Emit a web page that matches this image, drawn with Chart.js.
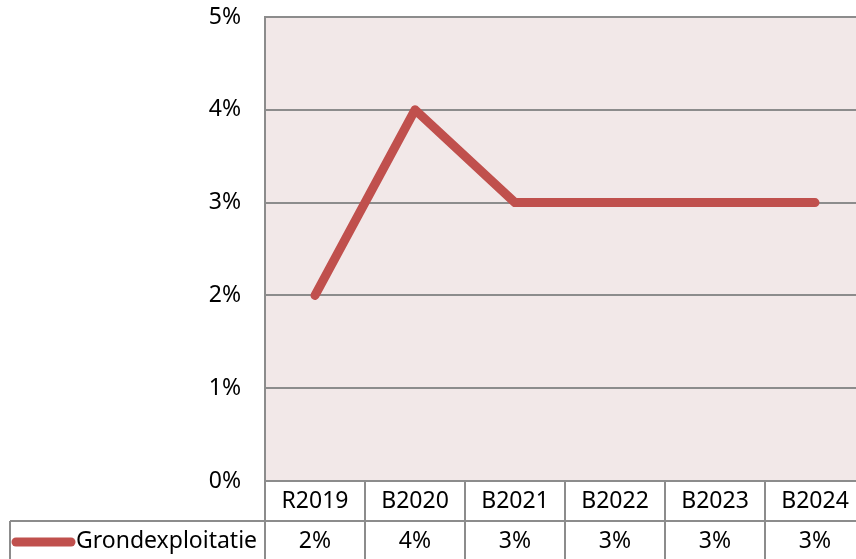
<!DOCTYPE html>
<html>
<head>
<meta charset="utf-8">
<script src="https://cdn.jsdelivr.net/npm/chart.js@4.4.1/dist/chart.umd.min.js"></script>
<style>
  html, body { margin: 0; padding: 0; background: #fff; overflow: hidden; }
  #wrap { width: 870px; height: 559px; }
</style>
</head>
<body>
<div id="wrap"><canvas id="myChart" width="870" height="559"></canvas></div>
<script>
// data
var categories = ['R2019', 'B2020', 'B2021', 'B2022', 'B2023', 'B2024'];
var seriesName = 'Grondexploitatie';
var seriesValues = [2, 4, 3, 3, 3, 3];
var yTicks = ['0%', '1%', '2%', '3%', '4%', '5%'];

var lineColor = '#C0504D';
var gridColor = '#8c8c8c';
var fontFam = '"Noto Sans", sans-serif';
var fontSize = 23;

// plot background + data table below the plot
const tablePlugin = {
  id: 'tablePlugin',
  beforeDraw: function (chart) {
    const a = chart.chartArea;
    const c = chart.ctx;
    c.save();
    c.fillStyle = '#F2E8E8';
    c.fillRect(a.left, a.top, a.right - a.left, a.bottom - a.top);
    c.restore();
  },
  afterDraw: function (chart) {
    const a = chart.chartArea;
    const c = chart.ctx;
    const xs = chart.scales.x;
    const colW = (a.right - a.left) / categories.length;
    const row1 = a.bottom;
    const row2 = a.bottom + 40;
    const row3 = chart.height + 5;
    c.save();
    c.strokeStyle = gridColor;
    c.lineWidth = 2;
    c.beginPath();
    // right border of plot
    c.moveTo(a.right, a.top); c.lineTo(a.right, a.bottom);
    // horizontal lines
    c.moveTo(a.left, row1); c.lineTo(a.right, row1);
    c.moveTo(10, row2); c.lineTo(a.right, row2);
    // vertical lines
    for (let i = 0; i <= categories.length; i++) {
      const x = a.left + i * colW;
      c.moveTo(x, row1); c.lineTo(x, row3);
    }
    c.moveTo(10, row2); c.lineTo(10, row3);
    c.stroke();

    c.fillStyle = '#000';
    c.font = fontSize + 'px ' + fontFam;
    c.textAlign = 'center';
    c.textBaseline = 'middle';
    categories.forEach((cat, i) => {
      const x = xs.getPixelForValue(i);
      c.fillText(cat, x, row1 + 20);
      c.fillText(seriesValues[i] + '%', x, row2 + 20);
    });

    // legend key
    c.strokeStyle = lineColor;
    c.lineWidth = 9;
    c.lineCap = 'round';
    c.beginPath();
    c.moveTo(16, row2 + 21); c.lineTo(71, row2 + 21);
    c.stroke();
    c.textAlign = 'left';
    c.fillText(seriesName, 76, row2 + 20);
    c.restore();
  }
};

const ctx = document.getElementById('myChart');
new Chart(ctx, {
  type: 'line',
  data: {
    labels: categories,
    datasets: [{
      label: seriesName,
      data: seriesValues,
      borderColor: lineColor,
      borderWidth: 9,
      borderCapStyle: 'round',
      borderJoinStyle: 'round',
      pointRadius: 0,
      tension: 0
    }]
  },
  options: {
    responsive: false,
    animation: false,
    devicePixelRatio: 1,
    layout: { padding: { top: 17, right: 5, bottom: 78, left: 0 } },
    plugins: {
      legend: { display: false },
      tooltip: { enabled: false }
    },
    scales: {
      x: {
        type: 'category',
        offset: true,
        display: false
      },
      y: {
        min: 0,
        max: 5,
        ticks: {
          stepSize: 1,
          padding: 24,
          color: '#000',
          font: { family: fontFam, size: fontSize },
          callback: (v) => yTicks[v]
        },
        grid: { color: gridColor, lineWidth: 2, drawTicks: false },
        border: { display: true, color: gridColor, width: 2 },
        afterFit: function (scale) {
          scale.width = 265;
          scale.paddingTop = 0;
          scale.paddingBottom = 0;
        }
      }
    }
  },
  plugins: [tablePlugin]
});
</script>
</body>
</html>
